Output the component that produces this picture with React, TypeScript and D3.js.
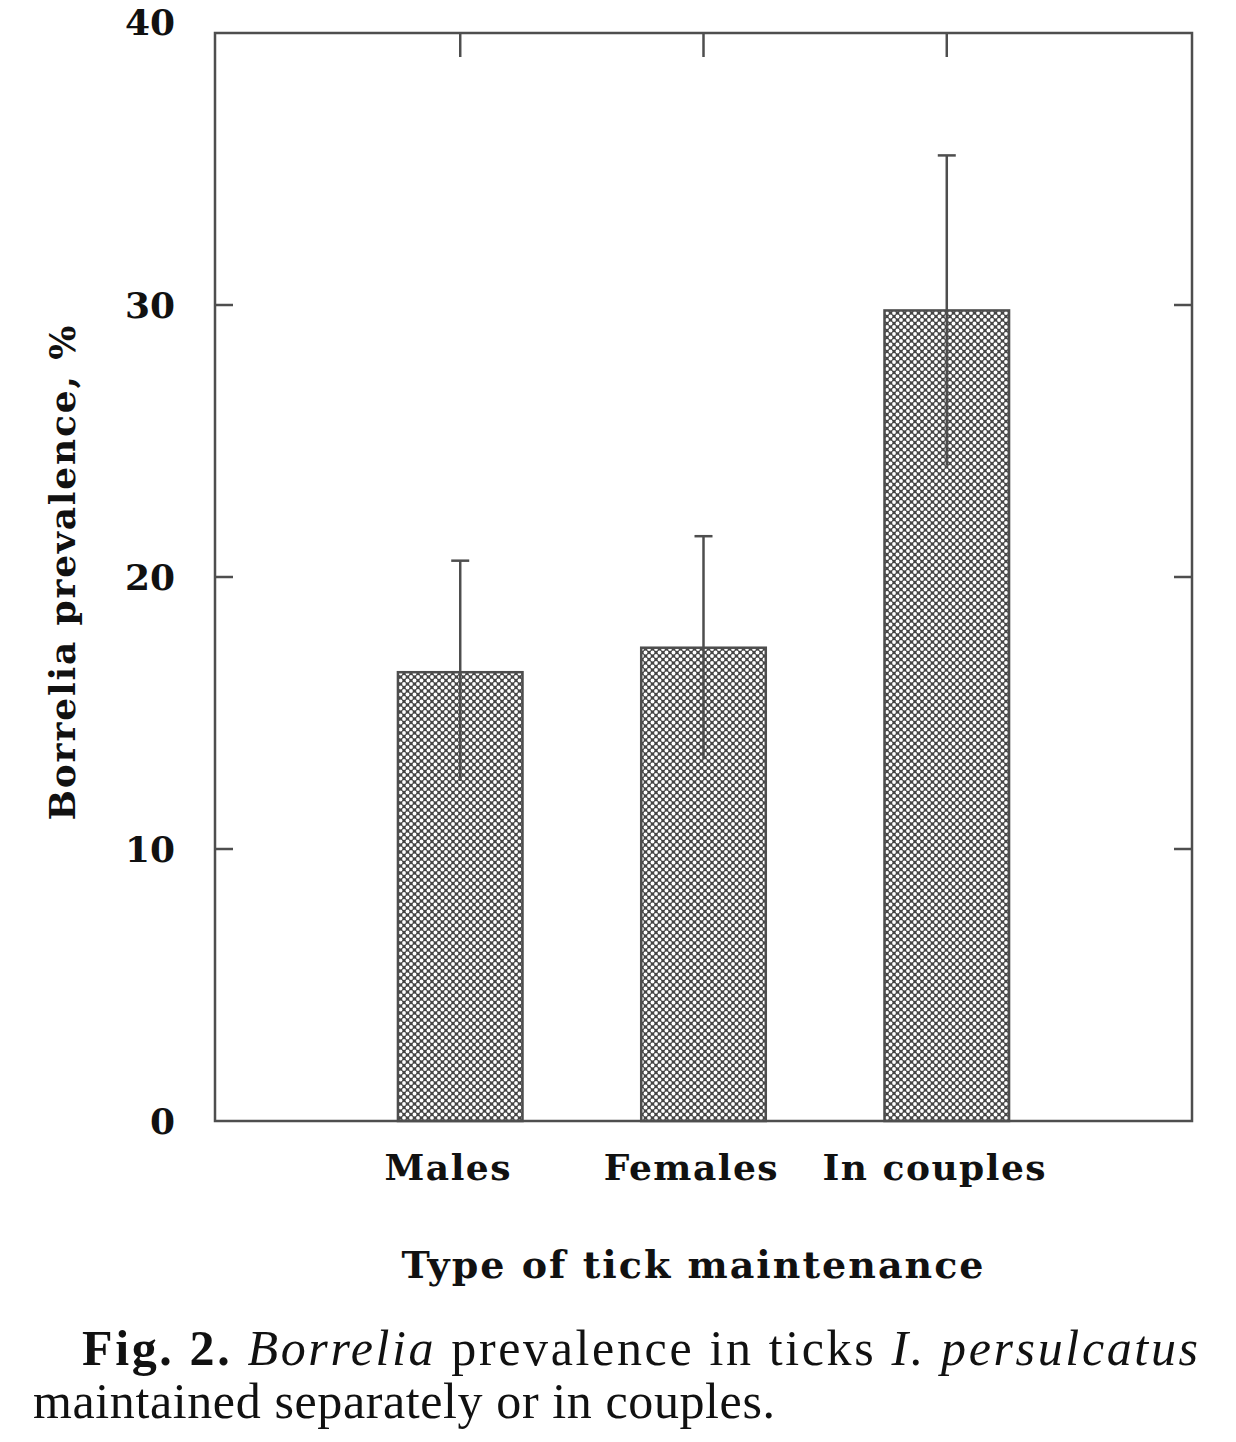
import React from "react";
import * as d3 from "d3";

const categories = ["Males", "Females", "In couples"];
const prevalence = [16.5, 17.4, 29.8];
const errLow = [12.5, 13.3, 24.1];
const errHigh = [20.6, 21.5, 35.5];
const yTicks = [0, 10, 20, 30, 40];

const W = 1236;
const H = 1442;
const margin = { top: 33, right: 44, bottom: 321, left: 215 };

const labelFont = "'DejaVu Serif', serif";
const captionFont = "Liberation Serif, Times New Roman, serif";

export default function App() {
  const plotW = W - margin.left - margin.right;
  const plotH = H - margin.top - margin.bottom;

  const x = d3
    .scaleBand<string>()
    .domain(categories)
    .range([0, plotW])
    .paddingInner(0.488)
    .paddingOuter(0.752);

  const y = d3.scaleLinear().domain([0, 40]).range([plotH, 0]);

  const frame = "#4e4e4e";
  const ink = "#111";

  return (
    <svg
      width={W}
      height={H}
      style={{ display: "block", position: "absolute", left: 0, top: 0 }}
    >
      <defs>
        <pattern
          id="dots"
          width={7}
          height={7}
          patternUnits="userSpaceOnUse"
        >
          <rect width={7} height={7} fill="#464646" />
          <circle cx={0} cy={0} r={1.9} fill="#fff" />
          <circle cx={7} cy={0} r={1.9} fill="#fff" />
          <circle cx={0} cy={7} r={1.9} fill="#fff" />
          <circle cx={7} cy={7} r={1.9} fill="#fff" />
          <circle cx={3.5} cy={3.5} r={1.9} fill="#fff" />
        </pattern>
      </defs>
      <rect width={W} height={H} fill="#fff" />
      <g transform={`translate(${margin.left},${margin.top})`}>
        {/* bars */}
        {categories.map((c, i) => (
          <rect
            key={c}
            x={x(c)}
            y={y(prevalence[i])}
            width={x.bandwidth()}
            height={plotH - y(prevalence[i])}
            fill="url(#dots)"
            stroke={frame}
            strokeWidth={2.5}
          />
        ))}

        {/* error bars */}
        {categories.map((c, i) => {
          const cx = (x(c) as number) + x.bandwidth() / 2;
          return (
            <g key={c} stroke={frame} strokeWidth={2.5}>
              <line x1={cx} x2={cx} y1={y(errLow[i])} y2={y(errHigh[i])} />
              <line
                x1={cx - 9}
                x2={cx + 9}
                y1={y(errHigh[i])}
                y2={y(errHigh[i])}
              />
            </g>
          );
        })}

        {/* frame */}
        <rect
          x={0}
          y={0}
          width={plotW}
          height={plotH}
          fill="none"
          stroke={frame}
          strokeWidth={2.5}
        />

        {/* inner ticks left and right */}
        {yTicks
          .filter((t) => t > 0 && t < 40)
          .map((t) => (
            <g key={t} stroke={frame} strokeWidth={2.5}>
              <line x1={0} x2={18} y1={y(t)} y2={y(t)} />
              <line x1={plotW - 18} x2={plotW} y1={y(t)} y2={y(t)} />
            </g>
          ))}

        {/* top ticks at categories */}
        {categories.map((c) => {
          const cx = (x(c) as number) + x.bandwidth() / 2;
          return (
            <line
              key={c}
              x1={cx}
              x2={cx}
              y1={0}
              y2={24}
              stroke={frame}
              strokeWidth={2.5}
            />
          );
        })}

        {/* y tick labels */}
        {yTicks.map((t) => (
          <text
            key={t}
            x={-40}
            y={t === 40 ? y(t) - 11 : y(t)}
            dy="0.36em"
            textAnchor="end"
            fontFamily={labelFont}
            fontWeight="bold"
            fontSize={36}
            fill={ink}
          >
            {t}
          </text>
        ))}

        {/* category labels */}
        {categories.map((c) => {
          const cx = (x(c) as number) + x.bandwidth() / 2;
          return (
            <text
              key={c}
              x={cx - 12}
              y={plotH + 59}
              textAnchor="middle"
              fontFamily={labelFont}
              fontWeight="bold"
              fontSize={36}
              letterSpacing={1.5}
              fill={ink}
            >
              {c}
            </text>
          );
        })}

        {/* x axis title */}
        <text
          x={plotW / 2 - 11}
          y={plotH + 157}
          textAnchor="middle"
          fontFamily={labelFont}
          fontWeight="bold"
          fontSize={38}
          textLength={582}
          lengthAdjust="spacing"
          fill={ink}
        >
          Type of tick maintenance
        </text>

        {/* y axis title */}
        <text
          transform={`translate(${-140},${y(20) - 4}) rotate(-90)`}
          textAnchor="middle"
          fontFamily={labelFont}
          fontWeight="bold"
          fontSize={36}
          textLength={495}
          lengthAdjust="spacing"
          fill={ink}
        >
          Borrelia prevalence, %
        </text>
      </g>

      {/* caption */}
      <text
        x={82}
        y={1365}
        fontFamily={captionFont}
        fontSize={50}
        textLength={1116}
        lengthAdjust="spacing"
        fill={ink}
      >
        <tspan fontWeight="bold">Fig. 2.</tspan>
        <tspan> </tspan>
        <tspan fontStyle="italic">Borrelia</tspan>
        <tspan> prevalence in ticks </tspan>
        <tspan fontStyle="italic">I. persulcatus</tspan>
      </text>
      <text
        x={33}
        y={1418}
        fontFamily={captionFont}
        fontSize={50}
        textLength={742}
        lengthAdjust="spacing"
        fill={ink}
      >
        maintained separately or in couples.
      </text>
    </svg>
  );
}
